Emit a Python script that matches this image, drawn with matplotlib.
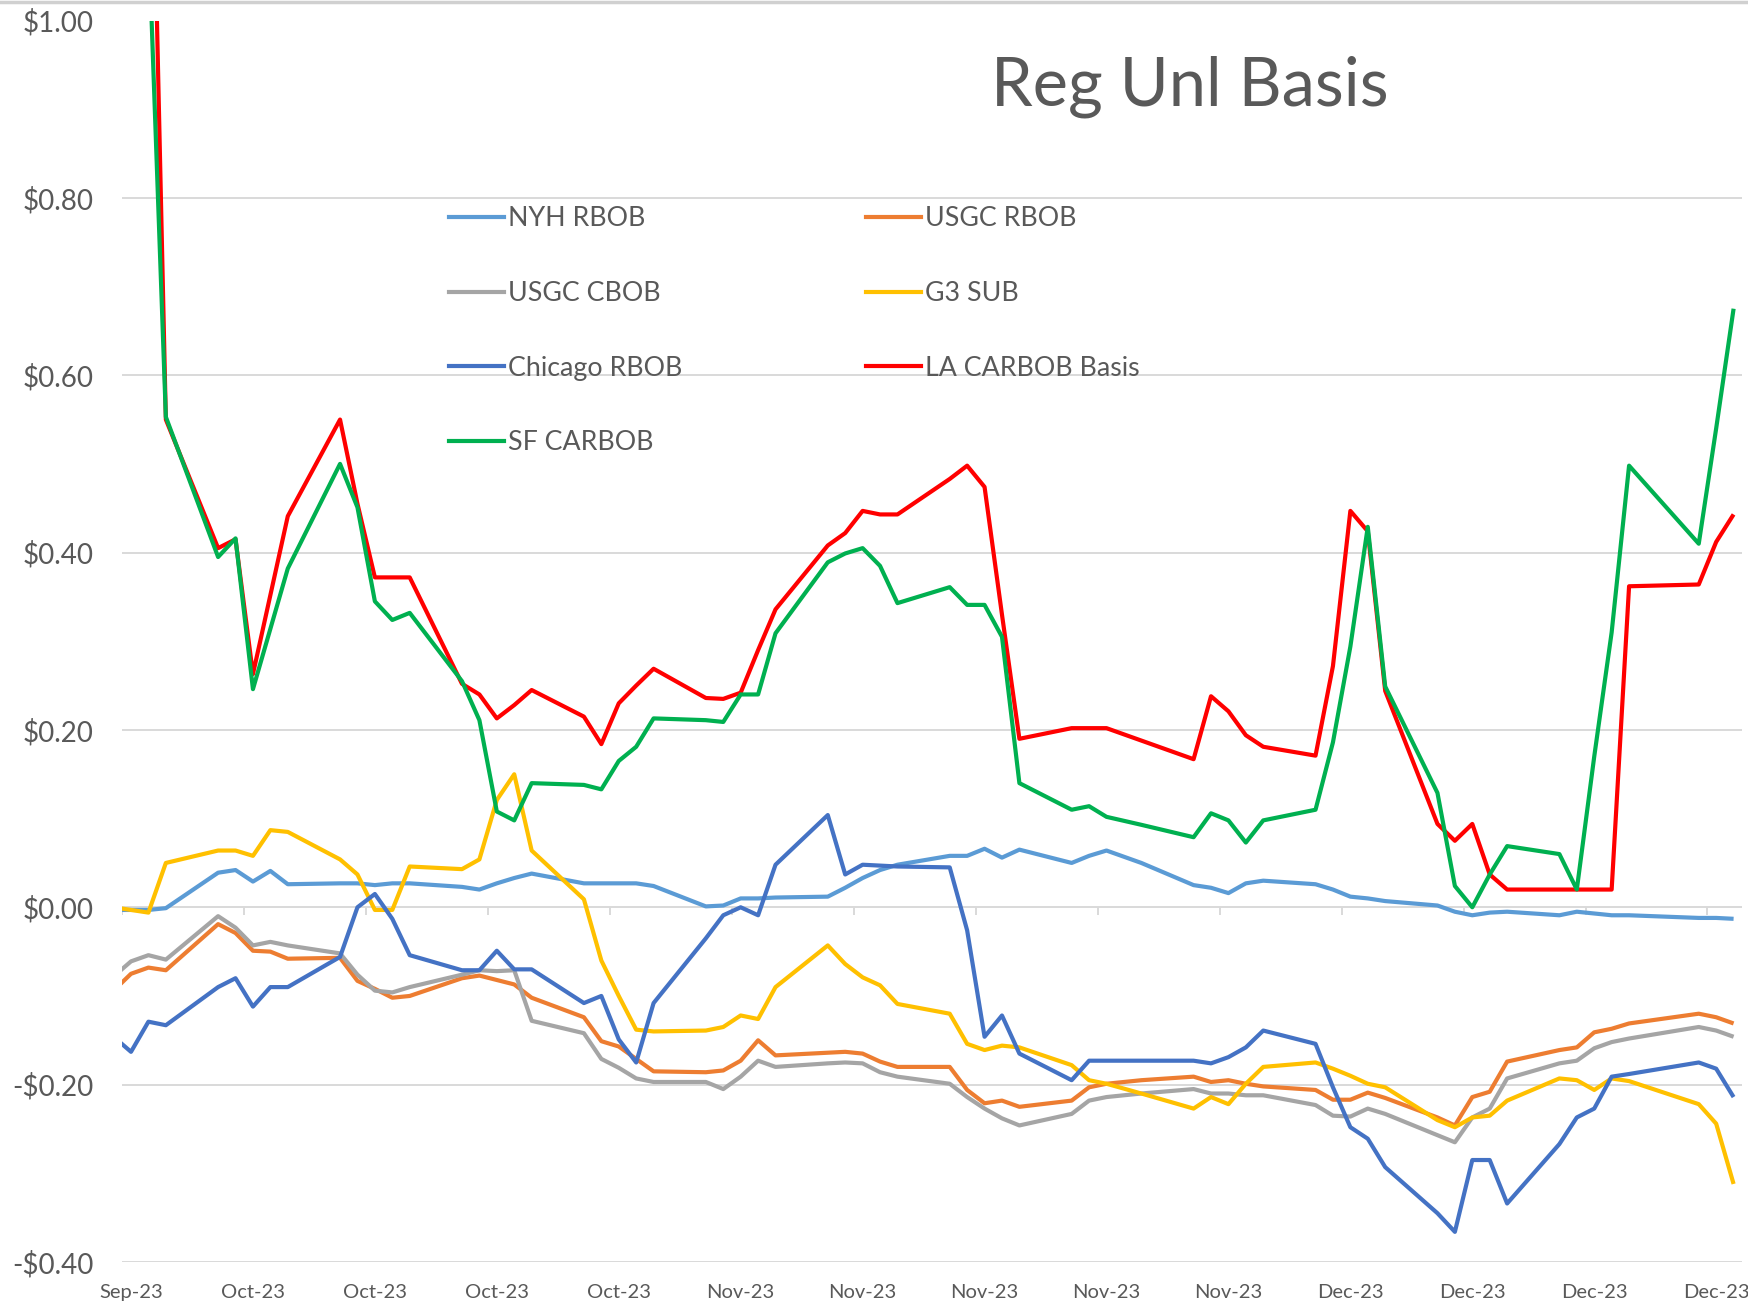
import matplotlib
matplotlib.use("Agg")
import matplotlib.pyplot as plt
import matplotlib.dates as mdates
from matplotlib.lines import Line2D
import pandas as pd

# ---------------- data ----------------
dates = ["2023-09-26", "2023-09-27", "2023-09-28", "2023-09-29",
         "2023-10-02", "2023-10-03", "2023-10-04", "2023-10-05", "2023-10-06",
         "2023-10-09", "2023-10-10", "2023-10-11", "2023-10-12", "2023-10-13",
         "2023-10-16", "2023-10-17", "2023-10-18", "2023-10-19", "2023-10-20",
         "2023-10-23", "2023-10-24", "2023-10-25", "2023-10-26", "2023-10-27",
         "2023-10-30", "2023-10-31", "2023-11-01", "2023-11-02", "2023-11-03",
         "2023-11-06", "2023-11-07", "2023-11-08", "2023-11-09", "2023-11-10",
         "2023-11-13", "2023-11-14", "2023-11-15", "2023-11-16", "2023-11-17",
         "2023-11-20", "2023-11-21", "2023-11-22", "2023-11-24",
         "2023-11-27", "2023-11-28", "2023-11-29", "2023-11-30", "2023-12-01",
         "2023-12-04", "2023-12-05", "2023-12-06", "2023-12-07", "2023-12-08",
         "2023-12-11", "2023-12-12", "2023-12-13", "2023-12-14", "2023-12-15",
         "2023-12-18", "2023-12-19", "2023-12-20", "2023-12-21", "2023-12-22",
         "2023-12-26", "2023-12-27", "2023-12-28"]

nyh_rbob = [-0.003, -0.003, -0.003, -0.001,
            0.039, 0.042, 0.029, 0.041, 0.026,
            0.027, 0.027, 0.025, 0.027, 0.027,
            0.023, 0.020, 0.027, 0.033, 0.038,
            0.027, 0.027, 0.027, 0.027, 0.024,
            0.001, 0.002, 0.010, 0.010, 0.011,
            0.012, 0.022, 0.033, 0.042, 0.048,
            0.058, 0.058, 0.066, 0.056, 0.065,
            0.050, 0.058, 0.064, 0.050,
            0.025, 0.022, 0.016, 0.027, 0.030,
            0.026, 0.020, 0.012, 0.010, 0.007,
            0.002, -0.005, -0.009, -0.006, -0.005,
            -0.009, -0.005, -0.007, -0.009, -0.009,
            -0.012, -0.012, -0.013]

usgc_rbob = [-0.094, -0.075, -0.068, -0.071,
             -0.019, -0.029, -0.049, -0.050, -0.058,
             -0.057, -0.083, -0.092, -0.102, -0.100,
             -0.080, -0.077, -0.082, -0.087, -0.102,
             -0.124, -0.151, -0.157, -0.171, -0.185,
             -0.186, -0.184, -0.173, -0.150, -0.167,
             -0.164, -0.163, -0.165, -0.174, -0.180,
             -0.180, -0.206, -0.221, -0.218, -0.225,
             -0.218, -0.203, -0.199, -0.195,
             -0.191, -0.197, -0.195, -0.199, -0.202,
             -0.206, -0.217, -0.217, -0.209, -0.215,
             -0.237, -0.246, -0.214, -0.208, -0.174,
             -0.161, -0.158, -0.141, -0.137, -0.131,
             -0.120, -0.124, -0.131]

usgc_cbob = [-0.078, -0.061, -0.054, -0.059,
             -0.010, -0.023, -0.043, -0.039, -0.043,
             -0.052, -0.076, -0.094, -0.096, -0.090,
             -0.076, -0.071, -0.072, -0.071, -0.128,
             -0.142, -0.171, -0.181, -0.193, -0.197,
             -0.197, -0.205, -0.191, -0.173, -0.180,
             -0.176, -0.175, -0.176, -0.186, -0.191,
             -0.199, -0.214, -0.227, -0.238, -0.246,
             -0.233, -0.218, -0.214, -0.210,
             -0.205, -0.210, -0.210, -0.212, -0.212,
             -0.223, -0.235, -0.236, -0.227, -0.233,
             -0.257, -0.265, -0.237, -0.227, -0.193,
             -0.176, -0.173, -0.159, -0.152, -0.148,
             -0.135, -0.139, -0.146]

g3_sub = [0.000, -0.003, -0.006, 0.050,
          0.064, 0.064, 0.058, 0.087, 0.085,
          0.054, 0.037, -0.003, -0.003, 0.046,
          0.043, 0.054, 0.121, 0.150, 0.064,
          0.009, -0.060, -0.100, -0.138, -0.140,
          -0.139, -0.135, -0.122, -0.126, -0.090,
          -0.043, -0.064, -0.079, -0.088, -0.109,
          -0.120, -0.154, -0.161, -0.156, -0.158,
          -0.178, -0.195, -0.199, -0.210,
          -0.227, -0.214, -0.222, -0.199, -0.180,
          -0.175, -0.182, -0.190, -0.199, -0.203,
          -0.240, -0.248, -0.237, -0.235, -0.218,
          -0.193, -0.195, -0.206, -0.193, -0.196,
          -0.222, -0.244, -0.312]

chicago_rbob = [-0.146, -0.163, -0.129, -0.133,
                -0.090, -0.080, -0.112, -0.090, -0.090,
                -0.056, 0.000, 0.015, -0.013, -0.054,
                -0.071, -0.071, -0.049, -0.070, -0.070,
                -0.108, -0.100, -0.149, -0.175, -0.108,
                -0.035, -0.009, 0.000, -0.009, 0.048,
                0.104, 0.037, 0.048, 0.047, 0.046,
                0.045, -0.026, -0.146, -0.122, -0.165,
                -0.195, -0.173, -0.173, -0.173,
                -0.173, -0.176, -0.169, -0.158, -0.139,
                -0.154, -0.203, -0.248, -0.261, -0.293,
                -0.345, -0.366, -0.285, -0.285, -0.334,
                -0.267, -0.237, -0.227, -0.191, -0.188,
                -0.175, -0.182, -0.214]

la_carbob = [1.45, 1.44, 1.43, 0.550,
             0.405, 0.415, 0.263, 0.352, 0.441,
             0.550, 0.455, 0.372, 0.372, 0.372,
             0.252, 0.240, 0.213, 0.228, 0.245,
             0.215, 0.184, 0.230, 0.250, 0.269,
             0.236, 0.235, 0.242, 0.290, 0.336,
             0.408, 0.422, 0.447, 0.443, 0.443,
             0.483, 0.498, 0.474, 0.330, 0.190,
             0.202, 0.202, 0.202, 0.188,
             0.167, 0.238, 0.221, 0.194, 0.181,
             0.171, 0.272, 0.447, 0.424, 0.244,
             0.094, 0.075, 0.094, 0.037, 0.020,
             0.020, 0.020, 0.020, 0.020, 0.362,
             0.364, 0.412, 0.443]

sf_carbob = [1.15, 1.12, 1.10, 0.553,
             0.395, 0.416, 0.246, 0.314, 0.382,
             0.500, 0.451, 0.345, 0.324, 0.332,
             0.255, 0.211, 0.108, 0.098, 0.140,
             0.138, 0.133, 0.165, 0.181, 0.213,
             0.211, 0.209, 0.240, 0.240, 0.309,
             0.389, 0.399, 0.405, 0.385, 0.343,
             0.361, 0.341, 0.341, 0.305, 0.140,
             0.110, 0.114, 0.102, 0.093,
             0.079, 0.106, 0.098, 0.073, 0.098,
             0.110, 0.186, 0.294, 0.429, 0.249,
             0.129, 0.024, 0.000, 0.037, 0.069,
             0.060, 0.020, 0.170, 0.310, 0.498,
             0.410, 0.540, 0.675]

series_names = ["NYH RBOB", "USGC RBOB", "USGC CBOB", "G3 SUB",
                "Chicago RBOB", "LA CARBOB Basis", "SF CARBOB"]
series_values = [nyh_rbob, usgc_rbob, usgc_cbob, g3_sub,
                 chicago_rbob, la_carbob, sf_carbob]
series_colors = ["#5B9BD5", "#ED7D31", "#A5A5A5", "#FFC000",
                 "#4472C4", "#FF0000", "#00B050"]

y_ticks = [-0.4, -0.2, 0.0, 0.2, 0.4, 0.6, 0.8, 1.0]
title = "Reg Unl Basis"

# ---------------- style ----------------
FONT = ["Lato", "DejaVu Sans"]
TXT = "#595959"
GRID = "#D9D9D9"
W, H = 1749, 1315

fig = plt.figure(figsize=(W / 100, H / 100), dpi=100)
left, right, top, bottom = 122.3, 1742.3, 20.5, 1262.0
ax = fig.add_axes([left / W, 1 - bottom / H, (right - left) / W, (bottom - top) / H])

x = mdates.date2num(pd.to_datetime(dates))
for name, vals, col in zip(series_names, series_values, series_colors):
    ax.plot(x, vals, color=col, lw=3.0, solid_joinstyle="round",
            solid_capstyle="butt", label=name)

x0 = mdates.date2num(pd.Timestamp("2023-09-27"))
x1 = mdates.date2num(pd.Timestamp("2023-12-28"))
ax.set_xlim(x0 - 0.5, x1 + 0.5)
ax.set_ylim(-0.4, 1.0)

ax.set_yticks(y_ticks)
ax.yaxis.set_major_formatter(
    plt.FuncFormatter(lambda v, p: f"${v:.2f}" if v >= -1e-9 else f"-${-v:.2f}"))
tick_dates = pd.date_range("2023-09-27", "2023-12-27", freq="7D")
ax.set_xticks(mdates.date2num(tick_dates))
ax.xaxis.set_major_formatter(mdates.DateFormatter("%b-%y"))

ax.grid(axis="y", color=GRID, lw=1.4)
ax.set_axisbelow(True)
for s in ax.spines.values():
    s.set_visible(False)
ax.tick_params(axis="y", length=0, pad=21, labelsize=20, labelcolor=TXT)
ax.tick_params(axis="x", length=0, pad=16, labelsize=14.5, labelcolor=TXT)
for lab in ax.get_xticklabels() + ax.get_yticklabels():
    lab.set_family(FONT)

# small category tick marks on the zero line (between dates)
ax.vlines(mdates.date2num(tick_dates) - 0.5, -0.009, 0.0, color=GRID, lw=1.4, zorder=0)

fig.text(1190 / W, 1 - 87 / H, title, ha="center", va="center",
         fontsize=48, color=TXT, family=FONT)

# legend: two columns placed explicitly, row-major order like the original
handles = {n: Line2D([], [], color=c, lw=3.0) for n, c in zip(series_names, series_colors)}
col1 = ["NYH RBOB", "USGC CBOB", "Chicago RBOB", "SF CARBOB"]
col2 = ["USGC RBOB", "G3 SUB", "LA CARBOB Basis"]
leg_kw = dict(loc="upper left", frameon=False, borderpad=0, borderaxespad=0,
              handlelength=2.05, handletextpad=0.15, labelspacing=1.85,
              prop={"family": FONT, "size": 19.3}, labelcolor=TXT,
              bbox_transform=fig.transFigure)
leg1 = fig.legend([handles[n] for n in col1], col1,
                  bbox_to_anchor=(449.5 / W, 1 - 206.5 / H), **leg_kw)
leg2 = fig.legend([handles[n] for n in col2], col2,
                  bbox_to_anchor=(865.6 / W, 1 - 206.5 / H), **leg_kw)

# thin border line at top of the picture
fig.add_artist(Line2D([0, 1], [1 - 1.5 / H, 1 - 1.5 / H], transform=fig.transFigure,
                      color="#D0D0D0", lw=2.5))

fig.savefig("out.png", dpi=100)
